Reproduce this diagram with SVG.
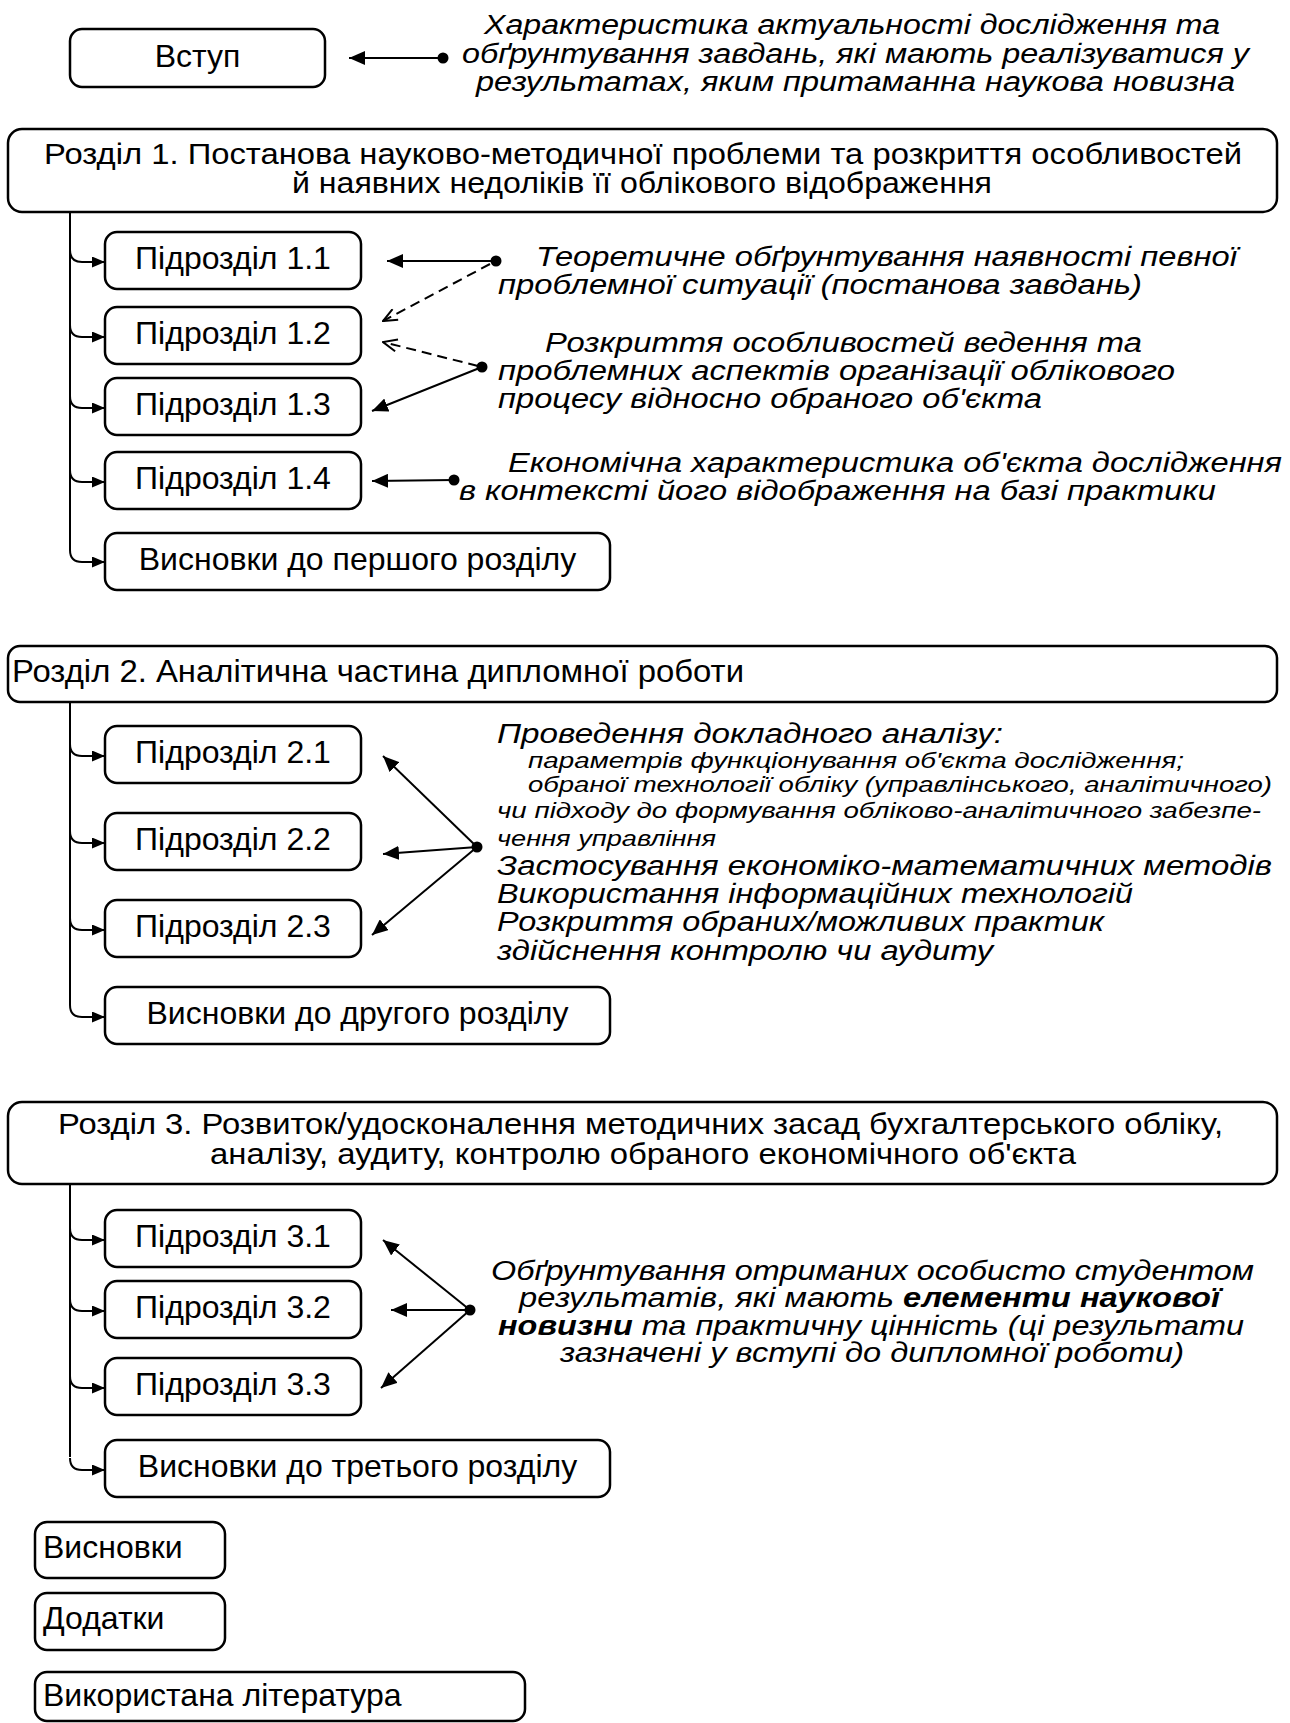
<svg xmlns="http://www.w3.org/2000/svg" width="1290" height="1723" viewBox="0 0 1290 1723">
<defs>
<style>
.box{fill:#fff;stroke:#000;stroke-width:2.5}
.t{font-family:"Liberation Sans",Arial,sans-serif;font-size:32px;fill:#000}
.h{font-size:29px}
.it{font-family:"Liberation Sans",Arial,sans-serif;font-style:italic;font-size:27px;fill:#000}
.its{font-size:22.5px}
.ln{stroke:#000;stroke-width:2;fill:none}
.dash{stroke-dasharray:10 6}
</style>
<marker id="ah" viewBox="0 0 16 14" refX="16" refY="7" markerWidth="16" markerHeight="14" markerUnits="userSpaceOnUse" orient="auto"><path d="M0,0 L16,7 L0,14 z" fill="#000"/></marker>
<marker id="ahs" viewBox="0 0 13 11" refX="13" refY="5.5" markerWidth="13" markerHeight="11" markerUnits="userSpaceOnUse" orient="auto"><path d="M0,0 L13,5.5 L0,11 z" fill="#000"/></marker>
<marker id="aho" viewBox="0 0 16 14" refX="15" refY="7" markerWidth="16" markerHeight="14" markerUnits="userSpaceOnUse" orient="auto"><path d="M1,1 L15,7 L1,13" fill="none" stroke="#000" stroke-width="2"/></marker>
</defs>
<rect x="0" y="0" width="1290" height="1723" fill="#fff"/>

<g id="connectors">
<path class="ln" d="M70,212 V550"/>
<path class="ln" d="M70,702 V1005"/>
<path class="ln" d="M70,1184 V1457"/>
<path class="ln" d="M70,250 Q70,262 82,262 L105,262" marker-end="url(#ahs)"/>
<path class="ln" d="M70,325 Q70,337 82,337 L105,337" marker-end="url(#ahs)"/>
<path class="ln" d="M70,396 Q70,408 82,408 L105,408" marker-end="url(#ahs)"/>
<path class="ln" d="M70,470 Q70,482 82,482 L105,482" marker-end="url(#ahs)"/>
<path class="ln" d="M70,550 Q70,562 82,562 L105,562" marker-end="url(#ahs)"/>
<path class="ln" d="M70,744 Q70,756 82,756 L105,756" marker-end="url(#ahs)"/>
<path class="ln" d="M70,831 Q70,843 82,843 L105,843" marker-end="url(#ahs)"/>
<path class="ln" d="M70,918 Q70,930 82,930 L105,930" marker-end="url(#ahs)"/>
<path class="ln" d="M70,1005 Q70,1017 82,1017 L105,1017" marker-end="url(#ahs)"/>
<path class="ln" d="M70,1228 Q70,1240 82,1240 L105,1240" marker-end="url(#ahs)"/>
<path class="ln" d="M70,1299 Q70,1311 82,1311 L105,1311" marker-end="url(#ahs)"/>
<path class="ln" d="M70,1376 Q70,1388 82,1388 L105,1388" marker-end="url(#ahs)"/>
<path class="ln" d="M70,1458 Q70,1470 82,1470 L105,1470" marker-end="url(#ahs)"/>
<path class="ln" d="M443,58 L349,58" marker-end="url(#ah)"/>
<circle cx="443" cy="58" r="5.5"/>
<path class="ln" d="M496,261 L387,261" marker-end="url(#ah)"/>
<circle cx="496" cy="261" r="5.5"/>
<path class="ln dash" d="M490,264 L383,321" marker-end="url(#aho)"/>
<path class="ln dash" d="M478,366 L383,342" marker-end="url(#aho)"/>
<path class="ln" d="M482,367 L372,411" marker-end="url(#ah)"/>
<circle cx="482" cy="367" r="5.5"/>
<path class="ln" d="M454,480 L372,481" marker-end="url(#ah)"/>
<circle cx="454" cy="480" r="5.5"/>
<path class="ln" d="M477,847 L383,756" marker-end="url(#ah)"/>
<path class="ln" d="M477,847 L383,854" marker-end="url(#ah)"/>
<path class="ln" d="M477,847 L372,935" marker-end="url(#ah)"/>
<circle cx="477" cy="847" r="5.5"/>
<path class="ln" d="M470,1310 L383,1240" marker-end="url(#ah)"/>
<path class="ln" d="M470,1310 L391,1310" marker-end="url(#ah)"/>
<path class="ln" d="M470,1310 L381,1388" marker-end="url(#ah)"/>
<circle cx="470" cy="1310" r="5.5"/>
</g>

<g id="vstup"><rect class="box" x="70" y="29" width="255" height="58" rx="12"/><text class="t" x="197.5" y="67" text-anchor="middle">Вступ</text></g>
<g id="note-vstup">
<text class="it" x="484" y="34" textLength="736" lengthAdjust="spacingAndGlyphs">Характеристика актуальності дослідження та</text>
<text class="it" x="462" y="63" textLength="787" lengthAdjust="spacingAndGlyphs">обґрунтування завдань, які мають реалізуватися у</text>
<text class="it" x="476" y="91" textLength="759" lengthAdjust="spacingAndGlyphs">результатах, яким притаманна наукова новизна</text>
</g>

<g id="rozdil1"><rect class="box" x="8" y="129" width="1269" height="83" rx="14"/>
<text class="t h" x="44" y="163.5" textLength="1198" lengthAdjust="spacingAndGlyphs">Розділ 1. Постанова науково-методичної проблеми та розкриття особливостей</text>
<text class="t h" x="292" y="193" textLength="700" lengthAdjust="spacingAndGlyphs">й наявних недоліків її облікового відображення</text></g>
<g id="p11"><rect class="box" x="105" y="232" width="256" height="57" rx="12"/><text class="t" x="233" y="268.5" text-anchor="middle">Підрозділ 1.1</text></g>
<g id="p12"><rect class="box" x="105" y="307" width="256" height="57" rx="12"/><text class="t" x="233" y="343.5" text-anchor="middle">Підрозділ 1.2</text></g>
<g id="p13"><rect class="box" x="105" y="378" width="256" height="57" rx="12"/><text class="t" x="233" y="414.5" text-anchor="middle">Підрозділ 1.3</text></g>
<g id="p14"><rect class="box" x="105" y="452" width="256" height="57" rx="12"/><text class="t" x="233" y="488.5" text-anchor="middle">Підрозділ 1.4</text></g>
<g id="v1"><rect class="box" x="105" y="533" width="505" height="57" rx="12"/><text class="t" x="357.5" y="569.5" text-anchor="middle">Висновки до першого розділу</text></g>

<g id="note-1a">
<text class="it" x="536" y="266" textLength="701" lengthAdjust="spacingAndGlyphs">Теоретичне обґрунтування наявності певної</text>
<text class="it" x="498" y="294" textLength="644" lengthAdjust="spacingAndGlyphs">проблемної ситуації (постанова завдань)</text>
</g>
<g id="note-1b">
<text class="it" x="545" y="352" textLength="597" lengthAdjust="spacingAndGlyphs">Розкриття особливостей ведення та</text>
<text class="it" x="498" y="380" textLength="677" lengthAdjust="spacingAndGlyphs">проблемних аспектів організації облікового</text>
<text class="it" x="498" y="408" textLength="544" lengthAdjust="spacingAndGlyphs">процесу відносно обраного об'єкта</text>
</g>
<g id="note-1c">
<text class="it" x="508" y="472" textLength="774" lengthAdjust="spacingAndGlyphs">Економічна характеристика об'єкта дослідження</text>
<text class="it" x="459" y="500" textLength="757" lengthAdjust="spacingAndGlyphs">в контексті його відображення на базі практики</text>
</g>

<g id="rozdil2"><rect class="box" x="8" y="646" width="1269" height="56" rx="12"/>
<text class="t" x="12" y="682" textLength="732" lengthAdjust="spacingAndGlyphs">Розділ 2. Аналітична частина дипломної роботи</text></g>
<g id="p21"><rect class="box" x="105" y="726" width="256" height="57" rx="12"/><text class="t" x="233" y="762.5" text-anchor="middle">Підрозділ 2.1</text></g>
<g id="p22"><rect class="box" x="105" y="813" width="256" height="57" rx="12"/><text class="t" x="233" y="849.5" text-anchor="middle">Підрозділ 2.2</text></g>
<g id="p23"><rect class="box" x="105" y="900" width="256" height="57" rx="12"/><text class="t" x="233" y="936.5" text-anchor="middle">Підрозділ 2.3</text></g>
<g id="v2"><rect class="box" x="105" y="987" width="505" height="57" rx="12"/><text class="t" x="357.5" y="1023.5" text-anchor="middle">Висновки до другого розділу</text></g>

<g id="note-2">
<text class="it" x="497" y="743" textLength="506" lengthAdjust="spacingAndGlyphs">Проведення докладного аналізу:</text>
<text class="it its" x="528" y="768" textLength="656" lengthAdjust="spacingAndGlyphs">параметрів функціонування об'єкта дослідження;</text>
<text class="it its" x="528" y="792" textLength="744" lengthAdjust="spacingAndGlyphs">обраної технології обліку (управлінського, аналітичного)</text>
<text class="it its" x="497" y="818" textLength="764" lengthAdjust="spacingAndGlyphs">чи підходу до формування обліково-аналітичного забезпе-</text>
<text class="it its" x="497" y="846" textLength="219" lengthAdjust="spacingAndGlyphs">чення управління</text>
<text class="it" x="497" y="875" textLength="775" lengthAdjust="spacingAndGlyphs">Застосування економіко-математичних методів</text>
<text class="it" x="497" y="903" textLength="636" lengthAdjust="spacingAndGlyphs">Використання інформаційних технологій</text>
<text class="it" x="497" y="931" textLength="607" lengthAdjust="spacingAndGlyphs">Розкриття обраних/можливих практик</text>
<text class="it" x="497" y="960" textLength="496" lengthAdjust="spacingAndGlyphs">здійснення контролю чи аудиту</text>
</g>

<g id="rozdil3"><rect class="box" x="8" y="1102" width="1269" height="82" rx="14"/>
<text class="t h" x="58" y="1134" textLength="1165" lengthAdjust="spacingAndGlyphs">Розділ 3. Розвиток/удосконалення методичних засад бухгалтерського обліку,</text>
<text class="t h" x="210" y="1163.5" textLength="866" lengthAdjust="spacingAndGlyphs">аналізу, аудиту, контролю обраного економічного об'єкта</text></g>
<g id="p31"><rect class="box" x="105" y="1210" width="256" height="57" rx="12"/><text class="t" x="233" y="1246.5" text-anchor="middle">Підрозділ 3.1</text></g>
<g id="p32"><rect class="box" x="105" y="1281" width="256" height="57" rx="12"/><text class="t" x="233" y="1317.5" text-anchor="middle">Підрозділ 3.2</text></g>
<g id="p33"><rect class="box" x="105" y="1358" width="256" height="57" rx="12"/><text class="t" x="233" y="1394.5" text-anchor="middle">Підрозділ 3.3</text></g>
<g id="v3"><rect class="box" x="105" y="1440" width="505" height="57" rx="12"/><text class="t" x="357.5" y="1476.5" text-anchor="middle">Висновки до третього розділу</text></g>

<g id="note-3">
<text class="it" x="491" y="1280" textLength="763" lengthAdjust="spacingAndGlyphs">Обґрунтування отриманих особисто студентом</text>
<text class="it" x="519" y="1307" textLength="701" lengthAdjust="spacingAndGlyphs">результатів, які мають <tspan font-weight="bold">елементи наукової</tspan></text>
<text class="it" x="498" y="1335" textLength="746" lengthAdjust="spacingAndGlyphs"><tspan font-weight="bold">новизни</tspan> та практичну цінність (ці результати</text>
<text class="it" x="560" y="1362" textLength="624" lengthAdjust="spacingAndGlyphs">зазначені у вступі до дипломної роботи)</text>
</g>

<g id="vysnovky"><rect class="box" x="35" y="1522" width="190" height="56" rx="12"/><text class="t" x="43" y="1558">Висновки</text></g>
<g id="dodatky"><rect class="box" x="35" y="1593" width="190" height="57" rx="12"/><text class="t" x="43" y="1629">Додатки</text></g>
<g id="literatura"><rect class="box" x="35" y="1672" width="490" height="49" rx="12"/><text class="t" x="43" y="1706">Використана література</text></g>
</svg>
